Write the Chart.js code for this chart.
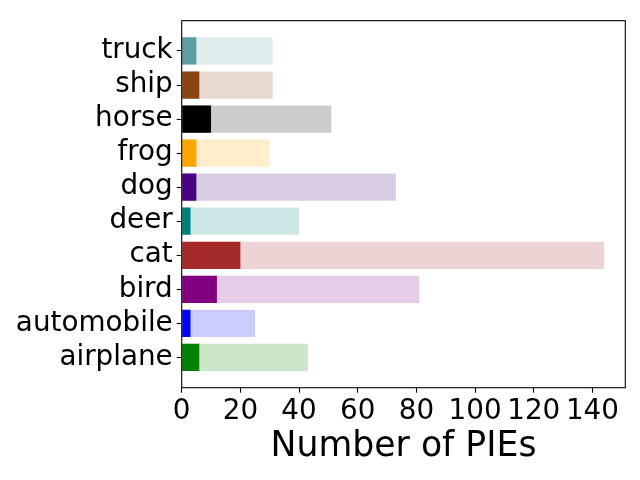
<!DOCTYPE html>
<html>
<head>
<meta charset="utf-8">
<script src="https://cdn.jsdelivr.net/npm/chart.js@4"></script>
<style>
html,body{margin:0;padding:0;background:#fff;}
canvas{display:block;}
</style>
</head>
<body>
<canvas id="c" width="640" height="480"></canvas>
<script>
const categories = ['airplane','automobile','bird','cat','deer','dog','frog','horse','ship','truck'];
const pieValues = [6, 3, 12, 20, 3, 5, 5, 10, 6, 5];
const totalValues = [43, 25, 81, 144, 40, 73, 30, 51, 31, 31];
const colors = ['#008000','#0000ff','#800080','#a52a2a','#008080','#4b0082','#ffa500','#000000','#8b4513','#5f9ea0'];
const xTicks = [0, 20, 40, 60, 80, 100, 120, 140];

function light(hex, a) {
  const r = parseInt(hex.slice(1,3),16), g = parseInt(hex.slice(3,5),16), b = parseInt(hex.slice(5,7),16);
  return `rgba(${r},${g},${b},${a})`;
}

const FONT = "'DejaVu Sans', sans-serif";
const xMax = Math.max(...totalValues) * 1.05;
const yMin = -0.4 - 0.049 * 10;
const yMax = 9.4 + 0.049 * 10;

const frame = {
  id: 'frame',
  afterDraw(chart) {
    const {ctx, chartArea: a} = chart;
    ctx.save();
    ctx.strokeStyle = '#000';
    ctx.lineWidth = 1.1;
    ctx.strokeRect(a.left, a.top, a.right - a.left, a.bottom - a.top);
    ctx.restore();
  }
};

new Chart(document.getElementById('c'), {
  type: 'bar',
  data: {
    datasets: [
      {
        data: categories.map((c, i) => ({x: pieValues[i], y: i})),
        backgroundColor: colors,
        barPercentage: 0.8,
        categoryPercentage: 1.0
      },
      {
        data: categories.map((c, i) => ({x: totalValues[i], y: i})),
        backgroundColor: colors.map(c => light(c, 0.2)),
        barPercentage: 0.8,
        categoryPercentage: 1.0
      }
    ]
  },
  options: {
    indexAxis: 'y',
    responsive: false,
    animation: false,
    layout: {padding: {top: 15, right: 14.7, left: 0, bottom: 0}},
    plugins: {legend: {display: false}, tooltip: {enabled: false}},
    scales: {
      x: {
        type: 'linear',
        min: 0,
        max: xMax,
        stacked: false,
        afterBuildTicks: (axis) => { axis.ticks = xTicks.map(v => ({value: v})); },
        afterFit: (axis) => { axis.height = 92.3; },
        grid: {display: true, drawOnChartArea: false, drawTicks: true, tickLength: 5, tickColor: '#000', tickWidth: 1.1},
        border: {display: false},
        ticks: {color: '#000', font: {family: FONT, size: 27.8}, padding: 2, maxRotation: 0, autoSkip: false},
        title: {display: true, text: 'Number of PIEs', color: '#000', font: {family: FONT, size: 34.7, lineHeight: 1}, padding: {top: 0, bottom: 15.7}}
      },
      y: {
        type: 'linear',
        min: yMin,
        max: yMax,
        offset: false,
        stacked: true,
        afterBuildTicks: (axis) => { axis.ticks = categories.map((c, i) => ({value: i})); },
        afterFit: (axis) => { axis.width = 181.7; },
        grid: {display: true, offset: false, drawOnChartArea: false, drawTicks: true, tickLength: 5, tickColor: '#000', tickWidth: 1.1},
        border: {display: false},
        ticks: {color: '#000', font: {family: FONT, size: 27.8}, padding: 4, autoSkip: false,
          callback: (v) => categories[v] ?? ''}
      }
    }
  },
  plugins: [frame]
});
</script>
</body>
</html>
